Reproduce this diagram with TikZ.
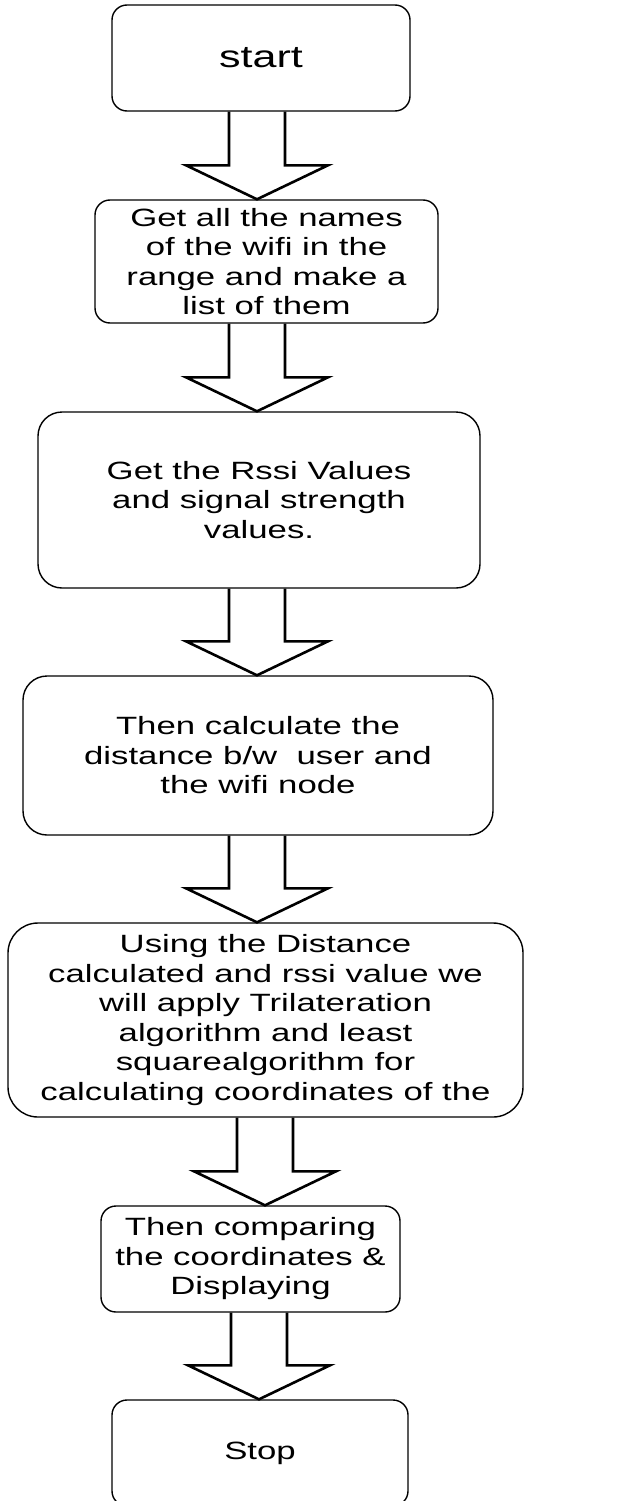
\documentclass[tikz,border=0pt]{standalone}
\usepackage{fontspec}
\setmainfont{Liberation Sans}[FakeStretch=1.39]
\usetikzlibrary{calc}

% block arrow from the bottom of one box to the top of the next
\newcommand{\flowarrow}[3]{%
  \draw[blockarrow] let \p1=(#1.south), \p2=(#2.north) in
    (#3pt-28pt,\y1) -- (#3pt-28pt,\y2+34pt) -- (#3pt-71pt,\y2+34pt) -- (#3pt,\y2)
    -- (#3pt+71pt,\y2+34pt) -- (#3pt+28pt,\y2+34pt) -- (#3pt+28pt,\y1);
}

\begin{document}
\begin{tikzpicture}[x=1pt, y=-1pt,
    stepbox/.style={draw, line width=1.4pt, rounded corners=15pt, inner sep=0pt,
      align=center, font=\fontsize{25}{29.5}\selectfont},
    blockarrow/.style={draw, line width=2.6pt, line join=miter}]
  \path[use as bounding box] (0,0) rectangle (618,1501);
  \clip (0,0) rectangle (618,1501);

  % boxes
  \node[stepbox, minimum width=298, minimum height=106, font=\fontsize{31}{36}\selectfont]
    (start) at (261,58) {start};
  \node[stepbox, minimum width=343, minimum height=123] (scan) at (266.5,261.5)
    {Get all the names\\of the wifi in the\\range and make a\\list of them};
  \node[stepbox, minimum width=442, minimum height=176, rounded corners=24pt] (rssi) at (259,500)
    {Get the Rssi Values\\and signal strength\\values.};
  \node[stepbox, minimum width=470, minimum height=159, rounded corners=24pt] (dist) at (258,755.5)
    {Then calculate the\\distance b/w\ \ user and\\the wifi node};
  \node[stepbox, minimum width=515, minimum height=194, rounded corners=30pt] (trilat) at (265.5,1020)
    {Using the Distance\\calculated and rssi value we\\will apply Trilateration\\algorithm and least\\squarealgorithm for\\calculating coordinates of the};
  \node[stepbox, minimum width=299, minimum height=106] (compare) at (250.5,1259)
    {Then comparing\\the coordinates \&\\Displaying};
  \node[stepbox, minimum width=296, minimum height=106] (stop) at (260,1453) {Stop};

  % arrows
  \flowarrow{start}{scan}{257}
  \flowarrow{scan}{rssi}{257}
  \flowarrow{rssi}{dist}{257}
  \flowarrow{dist}{trilat}{257}
  \flowarrow{trilat}{compare}{265}
  \flowarrow{compare}{stop}{259}
\end{tikzpicture}
\end{document}
